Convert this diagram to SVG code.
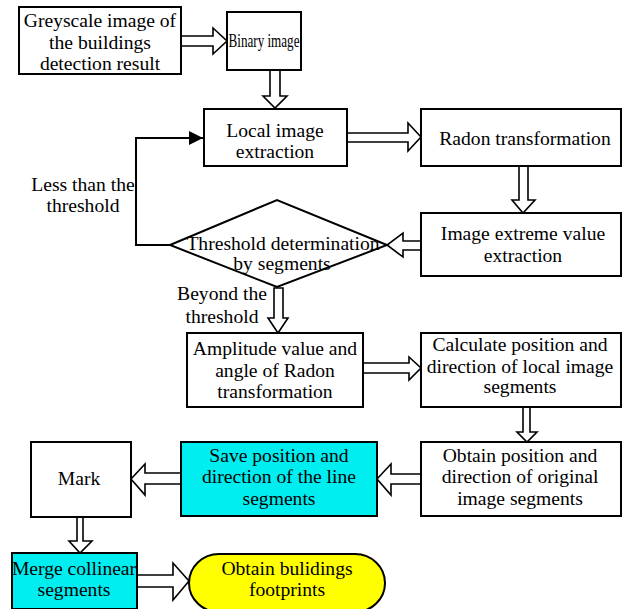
<svg xmlns="http://www.w3.org/2000/svg" width="623" height="609" viewBox="0 0 623 609" font-family="'Liberation Serif', 'Times New Roman', serif">
<defs>
<style>
.box{fill:#fff;stroke:#000;stroke-width:2}
.cyan{fill:#00EEF0}
.yellow{fill:#FFFF00}
.ha{fill:#fff;stroke:#000;stroke-width:1.6;stroke-linejoin:miter}
.ln{fill:none;stroke:#000;stroke-width:2}
text{font-family:'Liberation Serif','Times New Roman',serif;font-size:19.6px;fill:#000;text-anchor:middle}
</style>
<marker id="fa" markerWidth="14" markerHeight="14" refX="14" refY="7" orient="auto" markerUnits="userSpaceOnUse">
<path d="M0,0 L14,7 L0,14 Z" fill="#000"/>
</marker>
</defs>
<rect width="623" height="609" fill="#fff"/>

<g id="connectors">
<polygon class="ha" points="181,36 213,36 213,28 227,41 213,54 213,46 181,46"/>
<polygon class="ha" points="270,70 280,70 280,96 287,96 275,108 263,96 270,96"/>
<polygon class="ha" points="347,133 408,133 408,123 421,137 408,151 408,142 347,142"/>
<polygon class="ha" points="519,166 528,166 528,200 535,200 523,213 512,200 519,200"/>
<polygon class="ha" points="421,241 403,241 403,233 387,245 403,257 403,250 421,250"/>
<polygon class="ha" points="274,288 283,288 283,318 288,318 278,333 268,318 274,318"/>
<polygon class="ha" points="363,363 409,363 409,357 421,368 409,380 409,373 363,373"/>
<polygon class="ha" points="523,407 530,407 530,432 537,432 527,442 517,432 523,432"/>
<polygon class="ha" points="421,474 391,474 391,464 377,479 391,495 391,484 421,484"/>
<polygon class="ha" points="181,473 145,473 145,464 131,479 145,495 145,484 181,484"/>
<polygon class="ha" points="77,517 83,517 83,541 92,541 80,553 69,541 77,541"/>
<polygon class="ha" points="137,575 173,575 173,563 189,581 173,600 173,587 137,587"/>
<polyline class="ln" points="170,245 136,245 136,138 203,138" marker-end="url(#fa)"/>
</g>

<g id="n_greyscale">
<rect class="box" x="19" y="7" width="162" height="67"/>
<text x="100" y="27">Greyscale image of</text>
<text x="100" y="49">the buildings</text>
<text x="100" y="70">detection result</text>
</g>

<g id="n_binary">
<rect class="box" x="227" y="12" width="74" height="58"/>
<text x="264" y="47" textLength="71" lengthAdjust="spacingAndGlyphs">Binary image</text>
</g>

<g id="n_local">
<rect class="box" x="204" y="109" width="143" height="57"/>
<text x="275" y="137">Local image</text>
<text x="275" y="158">extraction</text>
</g>

<g id="n_radon">
<rect class="box" x="421" y="109" width="200" height="57"/>
<text x="525" y="145">Radon transformation</text>
</g>

<g id="n_extreme">
<rect class="box" x="421" y="213" width="200" height="63"/>
<text x="523" y="240">Image extreme value</text>
<text x="523" y="262">extraction</text>
</g>

<g id="n_threshold">
<polygon class="box" points="170,245 277,200 387,245 277,287"/>
<text x="283" y="250">Threshold determination</text>
<text x="282" y="270">by segments</text>
</g>

<g id="l_less">
<text x="83" y="191">Less than the</text>
<text x="83" y="212">threshold</text>
</g>

<g id="l_beyond">
<text x="222" y="300">Beyond the</text>
<text x="222" y="323">threshold</text>
</g>

<g id="n_amplitude">
<rect class="box" x="187" y="333" width="176" height="74"/>
<text x="275" y="355">Amplitude value and</text>
<text x="275" y="377">angle of Radon</text>
<text x="275" y="398">transformation</text>
</g>

<g id="n_calculate">
<rect class="box" x="421" y="333" width="200" height="74"/>
<text x="520" y="351">Calculate position and</text>
<text x="520" y="373">direction of local image</text>
<text x="520" y="393">segments</text>
</g>

<g id="n_obtainpos">
<rect class="box" x="421" y="442" width="200" height="74"/>
<text x="520" y="462">Obtain position and</text>
<text x="520" y="483">direction of original</text>
<text x="520" y="505">image segments</text>
</g>

<g id="n_save">
<rect class="box cyan" x="181" y="442" width="196" height="74"/>
<text x="279" y="462">Save position and</text>
<text x="279" y="483">direction of the line</text>
<text x="279" y="505">segments</text>
</g>

<g id="n_mark">
<rect class="box" x="31" y="442" width="100" height="75"/>
<text x="79" y="485">Mark</text>
</g>

<g id="n_merge">
<rect class="box cyan" x="12" y="553" width="125" height="56"/>
<text x="74" y="575">Merge collinear</text>
<text x="74" y="596">segments</text>
</g>

<g id="n_footprints">
<rect class="box yellow" x="189" y="554" width="196" height="58" rx="30" ry="29"/>
<text x="287" y="575">Obtain bulidings</text>
<text x="287" y="596">footprints</text>
</g>
</svg>
